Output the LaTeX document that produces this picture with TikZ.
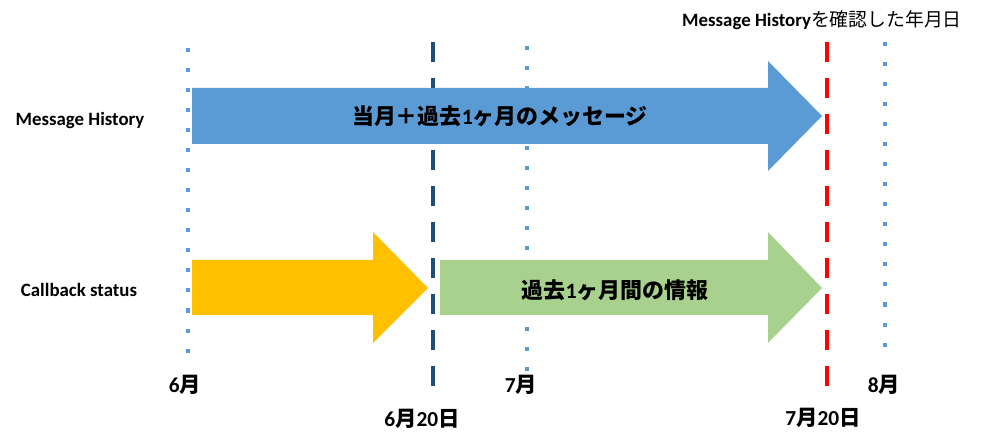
\documentclass[tikz,border=0pt]{standalone}
\usepackage{fontspec}
\setmainfont{Carlito}
\newfontfamily\jp{Noto Sans CJK JP}
\definecolor{msgblue}{RGB}{91, 155, 213}
\definecolor{navyline}{RGB}{31, 78, 121}
\definecolor{callyellow}{RGB}{255, 192, 0}
\definecolor{pastgreen}{RGB}{169, 209, 142}
\usetikzlibrary{positioning}
\newcommand{\ja}[1]{{\jp #1}}
\tikzset{
  monthline/.style={draw=msgblue, line width=2.85pt, dash pattern=on 2.85pt off 11.4pt},
  dayline/.style={line width=3.5pt, dash pattern=on 14.2pt off 11.4pt},
  rowlabel/.style={font=\bfseries\fontsize{13.4}{16}\selectfont},
  datelabel/.style={font=\bfseries\fontsize{15.2}{18}\selectfont},
  arrowtext/.style={font=\bfseries\fontsize{15.6}{18}\selectfont},
}

\begin{document}
\begin{tikzpicture}[x=0.025cm, y=-0.025cm]
  \useasboundingbox (0,0) rectangle (1001,446);

  % timeline markers
  \coordinate (jun top) at (188,48);   \coordinate (jun bot) at (188,354);
  \coordinate (jul top) at (527,46);   \coordinate (jul bot) at (527,372);
  \coordinate (aug top) at (885,42);   \coordinate (aug bot) at (885,348);
  \coordinate (d620 top) at (433,42);  \coordinate (d620 bot) at (433,397);
  \coordinate (d720 top) at (827,42);  \coordinate (d720 bot) at (827,398);
  \draw[monthline] (jun top) -- (jun bot);
  \draw[monthline] (jul top) -- (jul bot);
  \draw[monthline] (aug top) -- (aug bot);
  \draw[dayline, navyline] (d620 top) -- (d620 bot);
  \draw[dayline, red] (d720 top) -- (d720 bot);

  % arrows
  \fill[msgblue] (192,88) -- (768,88) -- (768,61) -- (822,116) -- (768,171) -- (768,144) -- (192,144) -- cycle;
  \fill[callyellow] (192,260) -- (373,260) -- (373,232) -- (428,288) -- (373,343) -- (373,315) -- (192,315) -- cycle;
  \fill[pastgreen] (440,260) -- (768,260) -- (768,232) -- (822,288) -- (768,343) -- (768,315) -- (440,315) -- cycle;

  % texts
  \node[arrowtext] (msg text) at (500,116) {\ja{当月＋過去}1\ja{ヶ月のメッセージ}};
  \node[arrowtext] (past text) at (615,290) {\ja{過去}1\ja{ヶ月間の情報}};
  \node[rowlabel] (msg label) at (80,120) {Message History};
  \node[rowlabel] (cb label) at (79,290) {Callback status};
  \node[rowlabel] (check label) at (822,20) {Message History{\mdseries\ja{を確認した年月日}}};

  \node[datelabel] (jun label) at (185,385) {6\ja{月}};
  \node[datelabel] (jul label) at (521,385) {7\ja{月}};
  \node[datelabel] (aug label) at (884,385) {8\ja{月}};
  \node[datelabel] (d620 label) at (422,419) {6\ja{月}20\ja{日}};
  \node[datelabel] (d720 label) at (823,418) {7\ja{月}20\ja{日}};
\end{tikzpicture}
\end{document}
